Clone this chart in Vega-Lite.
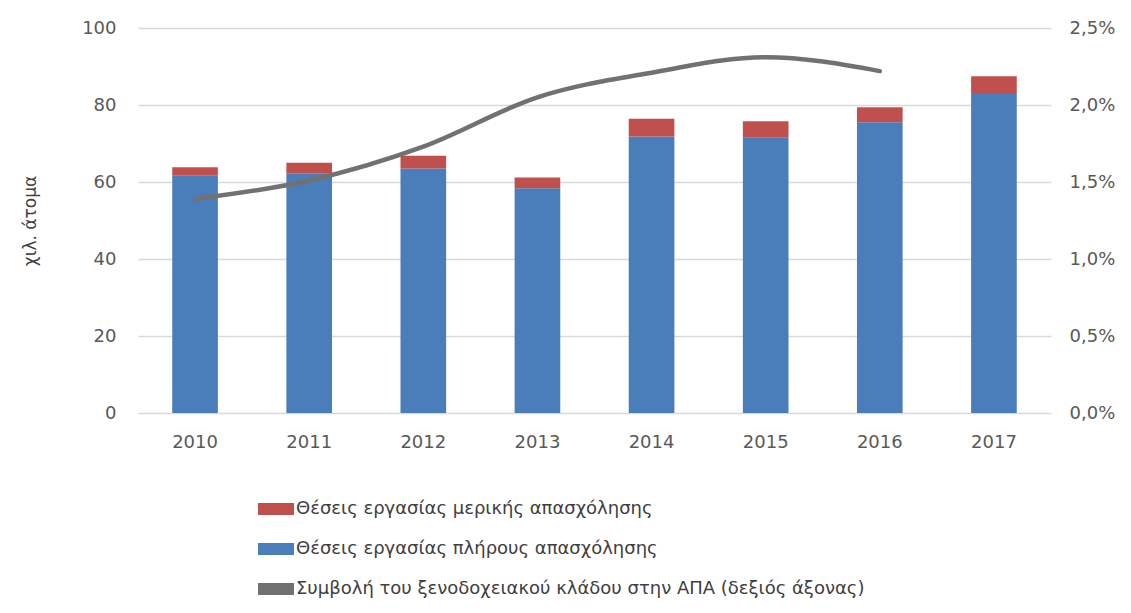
{
  "$schema": "https://vega.github.io/schema/vega-lite/v6.json",
  "autosize": {"type": "none"},
  "padding": {"left": 138, "top": 28, "right": 80, "bottom": 200},
  "width": 913,
  "height": 385,
  "background": "white",
  "config": {
    "font": "DejaVu Sans",
    "view": {"stroke": null},
    "axis": {"labelFont": "DejaVu Sans", "labelColor": "#595959", "labelFontSize": 18, "domain": false, "ticks": false, "titleFont": "DejaVu Sans"},
    "legend": {"labelFont": "DejaVu Sans"}
  },
  "datasets": {
    "jobs": [
      {"year": "2010", "series": "Θέσεις εργασίας πλήρους απασχόλησης", "value": 61.6},
      {"year": "2010", "series": "Θέσεις εργασίας μερικής απασχόλησης", "value": 2.2},
      {"year": "2011", "series": "Θέσεις εργασίας πλήρους απασχόλησης", "value": 62.3},
      {"year": "2011", "series": "Θέσεις εργασίας μερικής απασχόλησης", "value": 2.7},
      {"year": "2012", "series": "Θέσεις εργασίας πλήρους απασχόλησης", "value": 63.5},
      {"year": "2012", "series": "Θέσεις εργασίας μερικής απασχόλησης", "value": 3.3},
      {"year": "2013", "series": "Θέσεις εργασίας πλήρους απασχόλησης", "value": 58.4},
      {"year": "2013", "series": "Θέσεις εργασίας μερικής απασχόλησης", "value": 2.8},
      {"year": "2014", "series": "Θέσεις εργασίας πλήρους απασχόλησης", "value": 71.8},
      {"year": "2014", "series": "Θέσεις εργασίας μερικής απασχόλησης", "value": 4.6},
      {"year": "2015", "series": "Θέσεις εργασίας πλήρους απασχόλησης", "value": 71.5},
      {"year": "2015", "series": "Θέσεις εργασίας μερικής απασχόλησης", "value": 4.3},
      {"year": "2016", "series": "Θέσεις εργασίας πλήρους απασχόλησης", "value": 75.5},
      {"year": "2016", "series": "Θέσεις εργασίας μερικής απασχόλησης", "value": 3.9},
      {"year": "2017", "series": "Θέσεις εργασίας πλήρους απασχόλησης", "value": 83.1},
      {"year": "2017", "series": "Θέσεις εργασίας μερικής απασχόλησης", "value": 4.4}
    ],
    "gdp": [
      {"year": "2010", "series": "Συμβολή του ξενοδοχειακού κλάδου στην ΑΠΑ (δεξιός άξονας)", "share": 0.0139},
      {"year": "2011", "series": "Συμβολή του ξενοδοχειακού κλάδου στην ΑΠΑ (δεξιός άξονας)", "share": 0.0151},
      {"year": "2012", "series": "Συμβολή του ξενοδοχειακού κλάδου στην ΑΠΑ (δεξιός άξονας)", "share": 0.0173},
      {"year": "2013", "series": "Συμβολή του ξενοδοχειακού κλάδου στην ΑΠΑ (δεξιός άξονας)", "share": 0.0205},
      {"year": "2014", "series": "Συμβολή του ξενοδοχειακού κλάδου στην ΑΠΑ (δεξιός άξονας)", "share": 0.0221},
      {"year": "2015", "series": "Συμβολή του ξενοδοχειακού κλάδου στην ΑΠΑ (δεξιός άξονας)", "share": 0.0231},
      {"year": "2016", "series": "Συμβολή του ξενοδοχειακού κλάδου στην ΑΠΑ (δεξιός άξονας)", "share": 0.0222}
    ]
  },
  "encoding": {
    "x": {"field": "year", "type": "ordinal", "scale": {"paddingInner": 0.6, "paddingOuter": 0.3},
      "axis": {"title": null, "labelAngle": 0, "labelPadding": 20, "grid": false}},
    "color": {"field": "series", "type": "nominal",
      "scale": {"domain": ["Θέσεις εργασίας μερικής απασχόλησης", "Θέσεις εργασίας πλήρους απασχόλησης", "Συμβολή του ξενοδοχειακού κλάδου στην ΑΠΑ (δεξιός άξονας)"],
        "range": ["#c0504d", "#4a7ebb", "#717171"]},
      "legend": {"title": null, "orient": "none", "legendX": 120, "legendY": 463, "direction": "vertical", "columns": 1,
        "symbolType": "M-1,-0.33H1V0.33H-1Z", "symbolSize": 1296, "symbolStrokeWidth": 0, "symbolOpacity": 1,
        "labelFontSize": 18, "labelColor": "#404040", "labelLimit": 900, "rowPadding": 13, "labelOffset": 2}}
  },
  "layer": [
    {
      "data": {"name": "jobs"},
      "mark": {"type": "bar"},
      "encoding": {
        "y": {"field": "value", "type": "quantitative", "stack": "zero",
          "scale": {"domain": [0, 100]},
          "axis": {"values": [0, 20, 40, 60, 80, 100], "grid": true, "gridColor": "#d9d9d9", "gridWidth": 1.5, "labelPadding": 22,
            "title": "χιλ. άτομα", "titleFontSize": 17, "titleFontWeight": "normal", "titleColor": "#404040", "titlePadding": 42}},
        "order": {"field": "series", "sort": "descending"}
      }
    },
    {
      "data": {"name": "gdp"},
      "mark": {"type": "line", "interpolate": "monotone", "strokeWidth": 4.5, "strokeCap": "round"},
      "encoding": {
        "y": {"field": "share", "type": "quantitative",
          "scale": {"domain": [0, 0.025]},
          "axis": {"orient": "right", "values": [0, 0.005, 0.01, 0.015, 0.02, 0.025], "grid": false, "labelPadding": 18,
            "labelExpr": "replace(format(datum.value, '.1%'), '.', ',')", "title": null}}
      }
    }
  ],
  "resolve": {"scale": {"y": "independent"}}
}
